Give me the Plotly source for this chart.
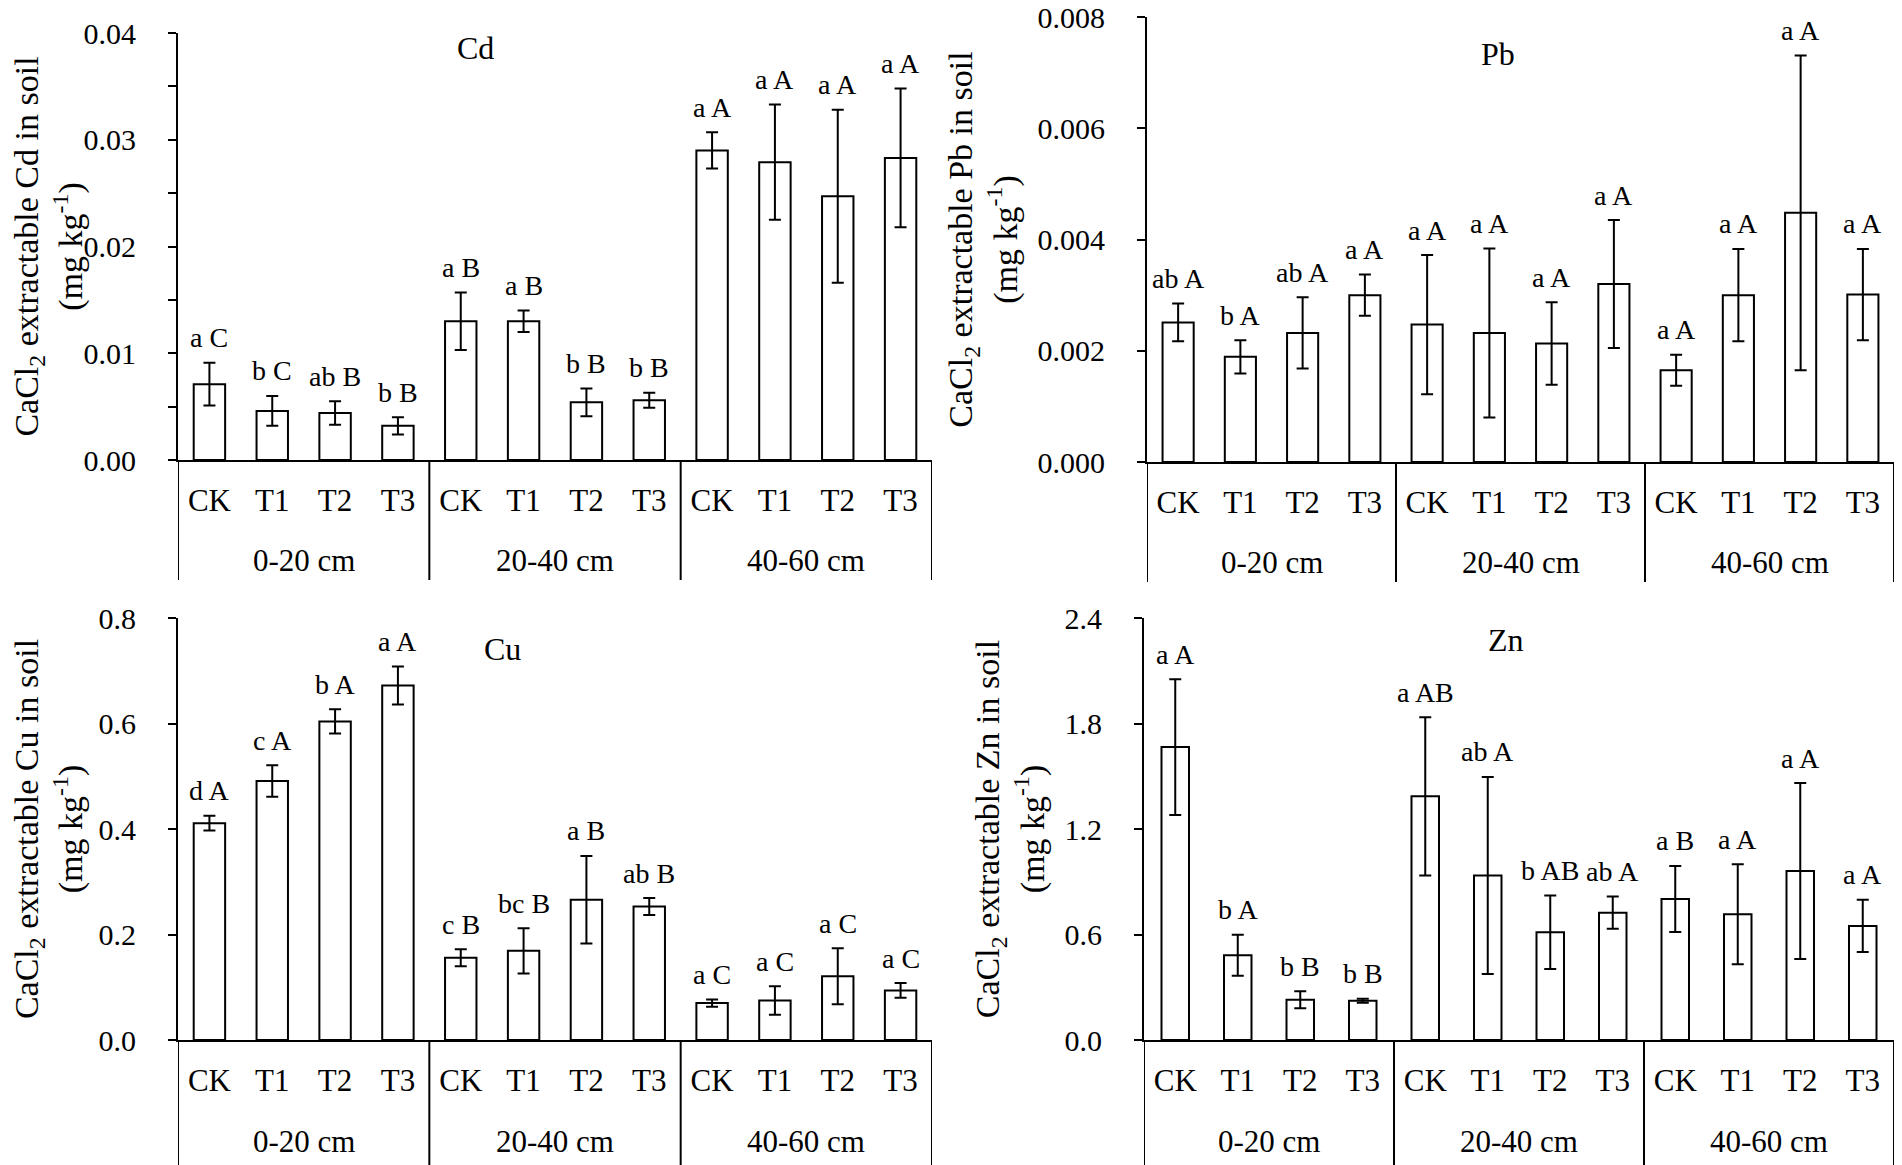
import plotly.graph_objects as go

# ------------------------------------------------------------
# Dados: média ± erro padrão por profundidade
# ------------------------------------------------------------
depths = ["0-20 cm", "20-40 cm", "40-60 cm"]
treatments = ["CK", "T1", "T2", "T3"]

cd_mean = [0.0071, 0.0046, 0.0044, 0.0032, 0.0130, 0.0130, 0.0054, 0.0056, 0.0290, 0.0279, 0.0247, 0.0283]
cd_err = [0.0020, 0.0014, 0.0011, 0.0008, 0.0027, 0.0010, 0.0013, 0.0007, 0.0017, 0.0054, 0.0081, 0.0065]
cd_letters = ["a C", "b C", "ab B", "b B", "a B", "a B", "b B", "b B", "a A", "a A", "a A", "a A"]

pb_mean = [0.00251, 0.00189, 0.00232, 0.00300, 0.00247, 0.00232, 0.00213, 0.00320, 0.00165, 0.00300, 0.00448, 0.00301]
pb_err = [0.00034, 0.00030, 0.00064, 0.00037, 0.00125, 0.00152, 0.00074, 0.00115, 0.00028, 0.00083, 0.00283, 0.00082]
pb_letters = ["ab A", "b A", "ab A", "a A", "a A", "a A", "a A", "a A", "a A", "a A", "a A", "a A"]

cu_mean = [0.411, 0.491, 0.604, 0.672, 0.156, 0.169, 0.266, 0.253, 0.070, 0.075, 0.121, 0.094]
cu_err = [0.014, 0.030, 0.023, 0.036, 0.016, 0.043, 0.083, 0.016, 0.007, 0.027, 0.053, 0.014]
cu_letters = ["d A", "c A", "b A", "a A", "c B", "bc B", "a B", "ab B", "a C", "a C", "a C", "a C"]

zn_mean = [1.666, 0.482, 0.229, 0.223, 1.386, 0.936, 0.613, 0.724, 0.802, 0.715, 0.961, 0.649]
zn_err = [0.386, 0.117, 0.048, 0.011, 0.450, 0.560, 0.209, 0.092, 0.188, 0.284, 0.500, 0.148]
zn_letters = ["a A", "b A", "b B", "b B", "a AB", "ab A", "b AB", "ab A", "a B", "a A", "a A", "a A"]

FONT = "Liberation Serif, Times New Roman, serif"
# a página tem 8 px de margem no <body>; a figura vai até a borda da janela
OFF = 8
W, H = 1902 - OFF, 1165 - OFF

# posição de cada barra no eixo (profundidade x tratamento)
pos = list(range(len(depths) * len(treatments)))
ticktext = treatments * len(depths)
bounds = [g * len(treatments) - 0.5 for g in range(len(depths) + 1)]
centers = [g * len(treatments) + (len(treatments) - 1) / 2 for g in range(len(depths))]

# painéis: elemento, dados, caixa em px da janela (esq, dir, topo, base), eixo y
panels = [
    dict(el="Cd", mean=cd_mean, err=cd_err, letters=cd_letters,
         px=(178, 932, 33, 460), ymax=0.04, dtick=0.01, fmt=".2f", minor=0.005,
         bw=0.5, title_pos=(0.395, 0.965), line_down=120),
    dict(el="Pb", mean=pb_mean, err=pb_err, letters=pb_letters,
         px=(1147, 1894, 17, 462), ymax=0.008, dtick=0.002, fmt=".3f", minor=None,
         bw=0.5, title_pos=(0.47, 0.917), line_down=120),
    dict(el="Cu", mean=cu_mean, err=cu_err, letters=cu_letters,
         px=(178, 932, 618, 1040), ymax=0.8, dtick=0.2, fmt=".1f", minor=None,
         bw=0.5, title_pos=(0.431, 0.927), line_down=130),
    dict(el="Zn", mean=zn_mean, err=zn_err, letters=zn_letters,
         px=(1144, 1894, 618, 1040), ymax=2.4, dtick=0.6, fmt=".1f", minor=None,
         bw=0.44, title_pos=(0.483, 0.948), line_down=130),
]

fig = go.Figure()
annotations = []
shapes = []
layout = {}

for i, p in enumerate(panels, start=1):
    sfx = "" if i == 1 else str(i)
    xa, ya = "x" + sfx, "y" + sfx
    left, right, top, bottom = [v - OFF for v in p["px"]]
    plot_h = bottom - top

    fig.add_trace(go.Bar(
        x=pos, y=p["mean"], width=p["bw"], xaxis=xa, yaxis=ya,
        marker=dict(color="white", line=dict(color="black", width=2)),
        error_y=dict(type="data", array=p["err"], color="black", thickness=2, width=6),
        showlegend=False, hoverinfo="skip",
    ))

    layout["xaxis" + sfx] = dict(
        domain=[left / W, right / W], anchor=ya, range=[-0.5, len(pos) - 0.5],
        automargin=False,
        showline=True, linecolor="black", linewidth=2, showgrid=False, zeroline=False,
        tickmode="array", tickvals=pos, ticktext=ticktext, ticks="",
        ticklabelstandoff=12, tickfont=dict(family=FONT, size=31, color="black"),
    )
    yax = dict(
        domain=[1 - bottom / H, 1 - top / H], anchor=xa, range=[0, p["ymax"]],
        automargin=False, ticklabeloverflow="allow",
        showline=True, linecolor="black", linewidth=2, showgrid=False, zeroline=False,
        dtick=p["dtick"], tickformat=p["fmt"], ticks="outside", ticklen=8, tickwidth=2,
        tickcolor="black", ticklabelstandoff=26,
        tickfont=dict(family=FONT, size=30, color="black"),
        title=dict(
            text=f"CaCl<sub>2</sub> extractable {p['el']} in soil<br>(mg kg<sup>-1</sup>)",
            font=dict(family=FONT, size=34, color="black"), standoff=10,
        ),
    )
    if p["minor"]:
        yax["minor"] = dict(dtick=p["minor"], ticks="outside", ticklen=8, tickwidth=2,
                            tickcolor="black", showgrid=False)
    layout["yaxis" + sfx] = yax

    # nome do elemento
    annotations.append(dict(
        text=p["el"], xref=xa + " domain", yref=ya + " domain",
        x=p["title_pos"][0], y=p["title_pos"][1], xanchor="center", yanchor="middle",
        showarrow=False, font=dict(family=FONT, size=32, color="black"),
    ))
    # letras de significância acima das barras de erro
    for xi, m, e, lab in zip(pos, p["mean"], p["err"], p["letters"]):
        annotations.append(dict(
            text=lab, x=xi, y=m + e, xref=xa, yref=ya, showarrow=False,
            xanchor="center", yanchor="middle", yshift=25,
            font=dict(family=FONT, size=28, color="black"),
        ))
    # rótulos das profundidades e divisórias
    for c, d in zip(centers, depths):
        annotations.append(dict(
            text=d, x=c, y=-101 / plot_h, xref=xa, yref=ya + " domain", showarrow=False,
            xanchor="center", yanchor="middle", font=dict(family=FONT, size=31, color="black"),
        ))
    for b in bounds:
        shapes.append(dict(
            type="line", xref=xa, yref=ya + " domain", x0=b, x1=b,
            y0=0, y1=-p["line_down"] / plot_h, line=dict(color="black", width=2),
        ))

fig.update_layout(
    width=W, height=H, margin=dict(l=0, r=0, t=0, b=0),
    paper_bgcolor="white", plot_bgcolor="white",
    font=dict(family=FONT, color="black"),
    annotations=annotations, shapes=shapes, **layout,
)
fig.write_html("out.html")
